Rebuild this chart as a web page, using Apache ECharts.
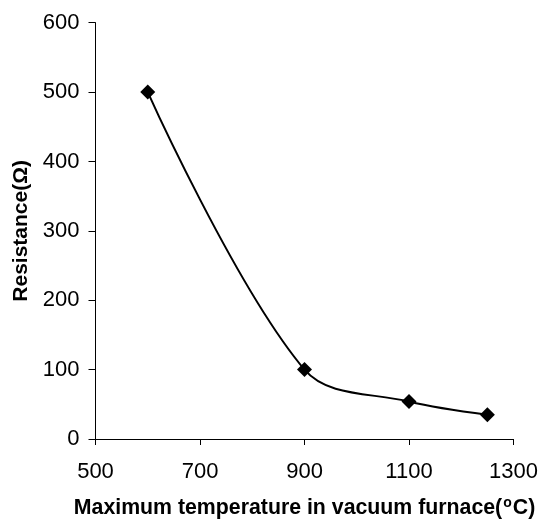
<!DOCTYPE html>
<html>
<head>
<meta charset="utf-8">
<script src="https://cdn.jsdelivr.net/npm/echarts@6/dist/echarts.min.js"></script>
<style>
  html, body { margin: 0; padding: 0; background: #fff; }
  #chart { width: 541px; height: 524px; }
</style>
</head>
<body>
<div id="chart"></div>
<script>
// Furnace peak temperature (°C) vs measured resistance (Ω)
var temperatures = [600, 900, 1100, 1250];
var resistances = [500, 100, 54, 35];
var xTicks = [500, 700, 900, 1100, 1300];
var yTicks = [0, 100, 200, 300, 400, 500, 600];

var FONT = '"Liberation Sans", Arial, sans-serif';

var points = temperatures.map(function (t, i) { return [t, resistances[i]]; });

var chart = echarts.init(document.getElementById('chart'), null, { renderer: 'canvas' });

chart.setOption({
  backgroundColor: '#ffffff',
  animation: false,
  grid: { left: 95.5, right: 26, top: 22.7, bottom: 84, containLabel: false },
  xAxis: {
    type: 'value',
    min: xTicks[0],
    max: xTicks[xTicks.length - 1],
    interval: xTicks[1] - xTicks[0],
    name: 'Maximum temperature in vacuum furnace({s|o}C)',
    nameLocation: 'middle',
    nameGap: 57,
    nameTextStyle: {
      fontFamily: FONT, fontSize: 21.3, fontWeight: 'bold', color: '#000',
      rich: {
        s: { fontFamily: FONT, fontSize: 14, fontWeight: 'bold', color: '#000', padding: [0, 1, 11, 1] }
      }
    },
    axisLine: { show: true, onZero: false, lineStyle: { color: '#000', width: 1 } },
    axisTick: { show: true, inside: false, length: 6, lineStyle: { color: '#000', width: 1 } },
    axisLabel: {
      margin: 22, fontFamily: FONT, fontSize: 22, color: '#000',
      formatter: function (v) { return String(v); }
    },
    splitLine: { show: false }
  },
  yAxis: {
    type: 'value',
    min: yTicks[0],
    max: yTicks[yTicks.length - 1],
    interval: yTicks[1] - yTicks[0],
    name: 'Resistance(Ω)',
    nameLocation: 'middle',
    nameGap: 57,
    nameTextStyle: { fontFamily: FONT, fontSize: 21, fontWeight: 'bold', color: '#000' },
    axisLine: { show: true, lineStyle: { color: '#000', width: 1 } },
    axisTick: { show: true, inside: false, length: 7, lineStyle: { color: '#000', width: 1 } },
    axisLabel: {
      margin: 16, fontFamily: FONT, fontSize: 22, color: '#000',
      formatter: function (v) { return String(v); }
    },
    splitLine: { show: false }
  },
  series: [{
    type: 'line',
    data: points,
    smooth: 0.35,
    symbol: 'diamond',
    symbolSize: 15,
    lineStyle: { color: '#000', width: 2 },
    itemStyle: { color: '#000', borderWidth: 0 }
  }]
});
</script>
</body>
</html>
